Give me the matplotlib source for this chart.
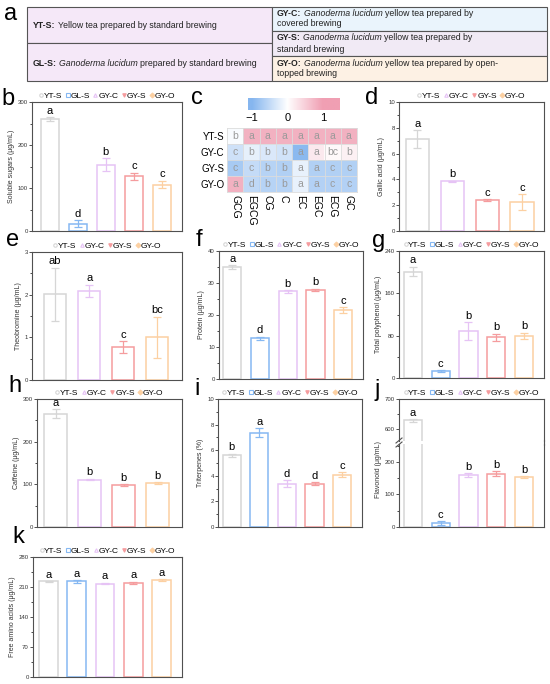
import numpy as np
import matplotlib
matplotlib.use('Agg')
import matplotlib.pyplot as plt
from matplotlib.lines import Line2D
from matplotlib.patches import Rectangle
from matplotlib.colors import LinearSegmentedColormap
from matplotlib.ticker import AutoMinorLocator

plt.rcParams['font.family'] = ['Liberation Sans', 'DejaVu Sans']

# ---- data ----
groups5 = ['YT-S', 'GL-S', 'GY-C', 'GY-S', 'GY-O']
groups4 = ['YT-S', 'GY-C', 'GY-S', 'GY-O']

sugar_mean = [260, 17, 154, 127, 108]
sugar_err = [4, 8, 15, 8, 9]
sugar_let = ['a', 'd', 'b', 'c', 'c']

gallic_mean = [7.13, 3.84, 2.38, 2.25]
gallic_err = [0.69, 0.05, 0.08, 0.6]
gallic_let = ['a', 'b', 'c', 'c']

theob_mean = [2.01, 2.09, 0.77, 1.0]
theob_err = [0.62, 0.14, 0.14, 0.48]
theob_let = ['ab', 'a', 'c', 'bc']

protein_mean = [34.9, 12.7, 27.4, 27.9, 21.5]
protein_err = [0.6, 0.5, 0.4, 0.3, 0.9]
protein_let = ['a', 'd', 'b', 'b', 'c']

poly_mean = [201, 13, 88, 77, 79]
poly_err = [9, 1.5, 17, 7, 6]
poly_let = ['a', 'c', 'b', 'b', 'b']

caff_mean = [266, 111, 98, 103]
caff_err = [10, 2, 2, 2]
caff_let = ['a', 'b', 'b', 'b']

triter_mean = [5.6, 7.35, 3.38, 3.38, 4.07]
triter_err = [0.12, 0.35, 0.28, 0.13, 0.2]
triter_let = ['b', 'a', 'd', 'd', 'c']

flav_mean = [630, 12, 160, 164, 155]
flav_err = [5, 6, 7, 8, 3]
flav_let = ['a', 'c', 'b', 'b', 'b']

amino_mean = [223, 223, 218, 220, 226]
amino_err = [1, 3, 2, 2, 2]
amino_let = ['a', 'a', 'a', 'a', 'a']

# catechins heatmap
cat_rows = ['YT-S', 'GY-C', 'GY-S', 'GY-O']
cat_cols = ['GCG', 'EGCG', 'CG', 'C', 'EC', 'EGC', 'ECG', 'GC']
cat_vals = [[-0.05, 0.8, 0.8, 0.8, 0.8, 0.8, 0.8, 0.8],
            [-0.4, -0.2, -0.3, -0.37, -0.95, 0.22, 0.06, 0.15],
            [-0.72, -0.48, -0.6, -0.64, -0.18, -0.64, -0.64, -0.64],
            [0.8, -0.52, -0.6, -0.6, -0.18, -0.62, -0.62, -0.62]]
cat_let = [['b', 'a', 'a', 'a', 'a', 'a', 'a', 'a'],
           ['c', 'b', 'b', 'b', 'a', 'a', 'bc', 'b'],
           ['c', 'c', 'b', 'b', 'a', 'a', 'c', 'c'],
           ['a', 'd', 'b', 'b', 'a', 'a', 'c', 'c']]

colors = {'YT-S': '#d6d6d6', 'GL-S': '#86b8f2', 'GY-C': '#e6c3f5',
          'GY-S': '#f59c9e', 'GY-O': '#fcd0a2'}
markers = {'YT-S': 'o', 'GL-S': 's', 'GY-C': '^', 'GY-S': 'v', 'GY-O': 'D'}
filled = {'YT-S': False, 'GL-S': False, 'GY-C': False, 'GY-S': True, 'GY-O': True}

W, H = 550, 684
fig = plt.figure(figsize=(W / 100, H / 100), dpi=100)


def box(l, t, r, b):
    return [l / W, 1 - b / H, (r - l) / W, (b - t) / H]


def style_ax(ax, ylim, yticks, ylabel, xlim, n):
    ax.set_ylim(*ylim)
    ax.set_yticks(yticks)
    ax.yaxis.set_minor_locator(AutoMinorLocator(2))
    ax.set_xlim(*xlim)
    ax.set_xticks(range(n))
    ax.set_xticklabels([])
    ax.tick_params(axis='y', labelsize=4.3, length=2, width=0.6, pad=1, colors='#333')
    ax.tick_params(axis='y', which='minor', length=1.2, width=0.5)
    ax.tick_params(axis='x', direction='in', length=2, width=0.6)
    for s in ax.spines.values():
        s.set_color('#505050')
        s.set_linewidth(0.8)
    if ylabel:
        ax.set_ylabel(ylabel, fontsize=5, labelpad=2, color='#333')


def bars(ax, groups, mean, err, lets, ylim, yticks, ylabel, xlim, show_let=True):
    x = np.arange(len(groups))
    for i, g in enumerate(groups):
        ax.bar(x[i], mean[i], width=0.66, facecolor='white', edgecolor=colors[g],
               linewidth=1.1, zorder=2)
        ax.errorbar(x[i], mean[i], yerr=err[i], color=colors[g], capsize=3,
                    elinewidth=0.9, capthick=0.9, zorder=3)
        if show_let:
            top = mean[i] + err[i]
            if ylim[0] <= top <= ylim[1]:
                ax.text(x[i], top + 0.012 * (ylim[1] - ylim[0]), lets[i],
                        ha='center', va='bottom', fontsize=8)
    style_ax(ax, ylim, yticks, ylabel, xlim, len(groups))


def legend(ax, groups, anchor_y=1.0):
    hs = []
    for g in groups:
        c = colors[g]
        hs.append(Line2D([], [], linestyle='none', marker=markers[g], markersize=2.5,
                         markeredgecolor=c, markerfacecolor=c if filled[g] else 'white',
                         markeredgewidth=0.8, label=g))
    ax.legend(handles=hs, loc='lower center', bbox_to_anchor=(0.5, anchor_y), ncol=len(groups),
              frameon=False, fontsize=6, handlelength=0.45, handletextpad=0.1,
              columnspacing=0.45, borderaxespad=0.15, borderpad=0.1)


# b
ax = fig.add_axes(box(32, 102, 182, 231))
bars(ax, groups5, sugar_mean, sugar_err, sugar_let, (0, 300), [0, 100, 200, 300],
     'Soluble sugars (μg/mL)', (-0.64, 4.72))
legend(ax, groups5)

# d
ax = fig.add_axes(box(399, 102, 544, 231))
bars(ax, groups4, gallic_mean, gallic_err, gallic_let, (0, 10), [0, 2, 4, 6, 8, 10],
     'Gallic acid (μg/mL)', (-0.52, 3.63))
legend(ax, groups4)

# e
ax = fig.add_axes(box(32, 252, 182, 380))
bars(ax, groups4, theob_mean, theob_err, theob_let, (0, 3), [0, 1, 2, 3],
     'Theobromine (μg/mL)', (-0.68, 3.73))
legend(ax, groups4)

# f
ax = fig.add_axes(box(219, 251, 363, 379))
bars(ax, groups5, protein_mean, protein_err, protein_let, (0, 40), [0, 10, 20, 30, 40],
     'Protein (μg/mL)', (-0.48, 4.72))
legend(ax, groups5)

# g
ax = fig.add_axes(box(399, 251, 544, 378))
bars(ax, groups5, poly_mean, poly_err, poly_let, (0, 240), [0, 80, 160, 240],
     'Total polyphenol (μg/mL)', (-0.5, 4.72))
legend(ax, groups5)

# h
ax = fig.add_axes(box(37, 399, 182, 527))
bars(ax, groups4, caff_mean, caff_err, caff_let, (0, 300), [0, 100, 200, 300],
     'Caffeine (μg/mL)', (-0.55, 3.72))
legend(ax, groups4)

# i
ax = fig.add_axes(box(218, 399, 362, 527))
bars(ax, groups5, triter_mean, triter_err, triter_let, (0, 10), [0, 2, 4, 6, 8, 10],
     'Triterpenes (%)', (-0.5, 4.72))
legend(ax, groups5)

# j (broken axis)
axu = fig.add_axes(box(399, 399, 544, 441))
bars(axu, groups5, flav_mean, flav_err, flav_let, (560, 700), [600, 700], None, (-0.5, 4.72))
axu.spines['bottom'].set_visible(False)
axu.tick_params(axis='x', bottom=False)
legend(axu, groups5)
axl = fig.add_axes(box(399, 444, 544, 527))
bars(axl, groups5, flav_mean, flav_err, flav_let, (0, 255), [0, 100, 200], None, (-0.5, 4.72))
axl.spines['top'].set_visible(False)

# k
ax = fig.add_axes(box(33, 557, 182, 677))
bars(ax, groups5, amino_mean, amino_err, amino_let, (0, 280), [0, 70, 140, 210, 280],
     'Free amino acids (μg/mL)', (-0.55, 4.72))
legend(ax, groups5)

# c heatmap
cmap = LinearSegmentedColormap.from_list('bwp', ['#86b6ef', '#ffffff', '#f09fb3'])
axh = fig.add_axes(box(227, 128, 357, 192))
vals = np.array(cat_vals)
axh.imshow(vals, cmap=cmap, vmin=-1, vmax=1, aspect='auto')
for r in range(len(cat_rows)):
    for c in range(len(cat_cols)):
        axh.text(c, r, cat_let[r][c], ha='center', va='center', fontsize=7.5, color='#9a9a9a')
for k in range(1, len(cat_cols)):
    axh.axvline(k - 0.5, color='#dcdcdc', lw=0.6)
for k in range(1, len(cat_rows)):
    axh.axhline(k - 0.5, color='#dcdcdc', lw=0.6)
axh.set_xticks(range(len(cat_cols)))
axh.set_xticklabels(cat_cols, rotation=270, fontsize=7.5)
axh.set_yticks(range(len(cat_rows)))
axh.set_yticklabels(cat_rows, fontsize=7)
axh.tick_params(length=0, pad=2)
for s in axh.spines.values():
    s.set_color('#dcdcdc')
    s.set_linewidth(0.6)

cax = fig.add_axes(box(248, 98, 340, 110))
grad = np.linspace(-1.11, 1.48, 200)[None, :]
cax.imshow(grad, cmap=cmap, vmin=-1, vmax=1, aspect='auto', extent=(-1.11, 1.48, 0, 1))
cax.set_xlim(-1.11, 1.48)
cax.set_yticks([])
cax.set_xticks([-1, 0, 1])
cax.set_xticklabels(['−1', '0', '1'], fontsize=8)
cax.tick_params(length=0, pad=2)
for s in cax.spines.values():
    s.set_visible(False)

# overlay: table (a), panel letters, break marks
ax0 = fig.add_axes([0, 0, 1, 1], zorder=10)
ax0.patch.set_alpha(0)
ax0.set_xlim(0, W)
ax0.set_ylim(H, 0)
ax0.axis('off')

cells = [(27, 7, 272, 43, '#f5e8f8'), (27, 43, 272, 81, '#f5e8f8'),
         (272, 7, 547, 31, '#eaf4fc'), (272, 31, 547, 56, '#f1eaf5'),
         (272, 56, 547, 81, '#fdf1e4')]
for l, t, r, b, fc in cells:
    ax0.add_patch(Rectangle((l, t), r - l, b - t, facecolor=fc, edgecolor='#555555', lw=0.8))

rend = fig.canvas.get_renderer()
fs = 6.35


def width(s, **kw):
    t = ax0.text(0, 0, s, fontsize=fs, **kw)
    w = t.get_window_extent(renderer=rend).width
    t.remove()
    return w


sp = width('a a') - width('aa')


def runs(x, y, parts):
    for s, st in parts:
        kw = {}
        if st == 'b':
            kw['fontweight'] = 'bold'
        if st == 'i':
            kw['fontstyle'] = 'italic'
        t = ax0.text(x, y, s, fontsize=fs, va='center', ha='left', color='#222', **kw)
        x += t.get_window_extent(renderer=rend).width + sp


runs(33, 25, [('YT-S:', 'b'), ('Yellow tea prepared by standard brewing', '')])
runs(33, 63, [('GL-S:', 'b'), ('Ganoderma lucidum', 'i'), ('prepared by standard brewing', '')])
runs(277, 14, [('GY-C:', 'b'), ('Ganoderma lucidum', 'i'), ('yellow tea prepared by', '')])
runs(277, 24, [('covered brewing', '')])
runs(277, 38, [('GY-S:', 'b'), ('Ganoderma lucidum', 'i'), ('yellow tea prepared by', '')])
runs(277, 49, [('standard brewing', '')])
runs(277, 63, [('GY-O:', 'b'), ('Ganoderma lucidum', 'i'), ('yellow tea prepared by open-', '')])
runs(277, 74, [('topped brewing', '')])

letters = [('a', 11, 14), ('b', 8, 99), ('c', 197, 98), ('d', 372, 98),
           ('e', 13, 240), ('f', 199, 240), ('g', 379, 241), ('h', 15, 386),
           ('i', 197, 389), ('j', 377, 390), ('k', 18, 537)]
for s, x, y in letters:
    ax0.text(x, y, s, fontsize=17, ha='center', va='center')

ax0.text(379, 470, 'Flavonoid (μg/mL)', fontsize=5, rotation=90, ha='center', va='center', color='#333')
for yy in (440.5, 444.5):
    ax0.plot([396, 402], [yy + 2.5, yy - 2.5], color='#505050', lw=0.8)
ax0.plot([544, 544], [440, 445], color='#505050', lw=0.8)

fig.savefig('out.png', dpi=100)
